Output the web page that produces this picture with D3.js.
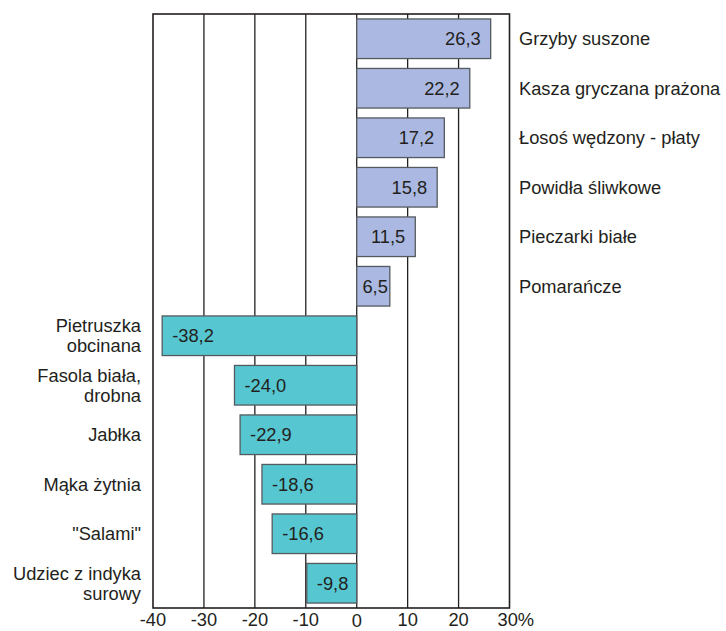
<!DOCTYPE html>
<html><head><meta charset="utf-8">
<script src="https://cdn.jsdelivr.net/npm/d3@7"></script>
<style>body{margin:0;background:#fff}svg{display:block}text{font-family:"Liberation Sans",Arial,sans-serif;fill:#231f20}</style>
</head><body><svg id="c" width="726" height="631"></svg>
<script>
const categories = [
  ["Grzyby suszone"],
  ["Kasza gryczana prażona"],
  ["Łosoś wędzony - płaty"],
  ["Powidła śliwkowe"],
  ["Pieczarki białe"],
  ["Pomarańcze"],
  ["Pietruszka","obcinana"],
  ["Fasola biała,","drobna"],
  ["Jabłka"],
  ["Mąka żytnia"],
  ["\"Salami\""],
  ["Udziec z indyka","surowy"]
];
const values = [26.3, 22.2, 17.2, 15.8, 11.5, 6.5, -38.2, -24.0, -22.9, -18.6, -16.6, -9.8];
const tickValues = [-40, -30, -20, -10, 0, 10, 20, 30];
const tickLabels = ["-40", "-30", "-20", "-10", "0", "10", "20", "30%"];

const FS = 18.3;
const svg = d3.select("#c");
const x = d3.scaleLinear().domain([-40, 30]).range([153, 509.5]);
const ids = categories.map((c, i) => i);
const y = d3.scaleBand().domain(ids).range([14, 608]).paddingInner(0.2).paddingOuter(0.1);
const fmt = v => v.toFixed(1).replace(".", ",");

svg.append("rect").attr("x", x(-40)).attr("y", 14).attr("width", x(30) - x(-40)).attr("height", 594)
  .attr("fill", "#fff");

// gridlines
svg.append("g").selectAll("line").data(tickValues.slice(1, -1)).join("line")
  .attr("x1", d => x(d)).attr("x2", d => x(d)).attr("y1", 14).attr("y2", 608)
  .attr("stroke", "#231f20").attr("stroke-width", 1.3);

// bars
svg.append("g").selectAll("rect").data(values).join("rect")
  .attr("x", d => x(Math.min(0, d)))
  .attr("y", (d, i) => y(i))
  .attr("width", d => Math.abs(x(d) - x(0)))
  .attr("height", y.bandwidth())
  .attr("fill", d => d >= 0 ? "#abb9e2" : "#56c6d0")
  .attr("stroke", "#555a5e").attr("stroke-width", 1.3);

// value labels
svg.append("g").selectAll("text").data(values).join("text")
  .attr("y", (d, i) => y(i) + y.bandwidth() / 2)
  .attr("dy", "0.36em")
  .attr("text-anchor", d => d >= 0 ? "end" : "start")
  .attr("font-size", FS)
  .text(fmt)
  .each(function(d) {
    const w = this.getComputedTextLength();
    const bw = Math.abs(x(d) - x(0));
    const off = Math.max(2, Math.min(10, bw - w - 6));
    d3.select(this).attr("x", d >= 0 ? x(d) - off : x(d) + off);
  });

// frame
svg.append("rect").attr("x", x(-40)).attr("y", 14).attr("width", x(30) - x(-40)).attr("height", 594)
  .attr("fill", "none").attr("stroke", "#231f20").attr("stroke-width", 1.6);

// category labels
const lab = svg.append("g").selectAll("text").data(categories).join("text")
  .attr("x", (c, i) => values[i] >= 0 ? 519 : 141)
  .attr("y", (c, i) => y(i) + y.bandwidth() / 2)
  .attr("text-anchor", (c, i) => values[i] >= 0 ? "start" : "end")
  .attr("font-size", FS);
lab.each(function(c) {
  const t = d3.select(this);
  const n = c.length;
  const base = +t.attr("y") + FS * 0.36 - (n - 1) * 10;
  c.forEach((line, k) => {
    t.append("tspan").attr("x", t.attr("x")).attr("y", base + k * 20).text(line);
  });
});

// x axis labels
svg.append("g").selectAll("text").data(tickValues).join("text")
  .attr("x", d => d === 30 ? x(d) - 12 : x(d))
  .attr("y", d => d === 0 ? 627 : 626)
  .attr("text-anchor", d => d === 30 ? "start" : "middle")
  .attr("font-size", FS)
  .text((d, i) => tickLabels[i]);
</script></body></html>
